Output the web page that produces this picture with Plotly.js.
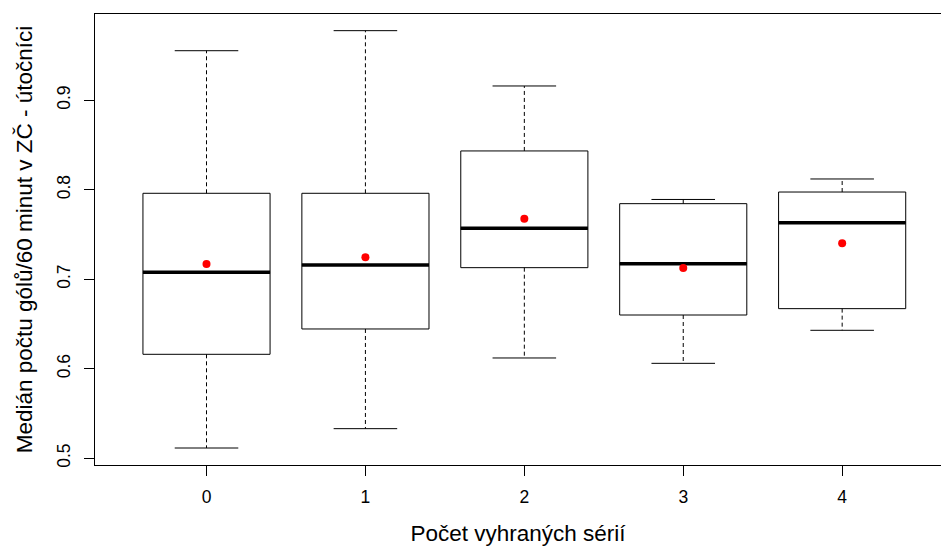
<!DOCTYPE html>
<html>
<head>
<meta charset="utf-8">
<script src="https://cdn.plot.ly/plotly-3.0.1.min.js"></script>
<style>html,body{margin:0;padding:0;background:#fff;}#chart{width:941px;height:546px;}</style>
</head>
<body>
<div id="chart"></div>
<script>
// Data
const categories = ['0', '1', '2', '3', '4'];
const whiskerLow  = [0.5115, 0.5331, 0.6121, 0.6061, 0.6430];
const q1          = [0.6162, 0.6445, 0.7130, 0.6601, 0.6672];
const medians     = [0.7078, 0.7160, 0.7570, 0.7174, 0.7633];
const q3          = [0.7961, 0.7961, 0.8434, 0.7845, 0.7975];
const whiskerHigh = [0.9554, 0.9778, 0.9160, 0.7892, 0.8121];
const means       = [0.7171, 0.7246, 0.7677, 0.7126, 0.7402];
const yTicks = [0.5, 0.6, 0.7, 0.8, 0.9];
const yTickLabels = ['0.5', '0.6', '0.7', '0.8', '0.9'];

const xs = categories.map((c, i) => i);
const BOX_HALF = 0.4, CAP_HALF = 0.2;
const FONT = 'Liberation Sans, Arial, Helvetica, sans-serif';

// Boxes
const boxTrace = {
  type: 'box', x: xs, q1: q1, median: medians, q3: q3,
  lowerfence: q1, upperfence: q3,
  width: BOX_HALF * 2, whiskerwidth: 0,
  fillcolor: '#ffffff', line: {color: '#000000', width: 1},
  boxpoints: false, hoverinfo: 'skip', showlegend: false
};

// Dashed whiskers
const wx = [], wy = [];
xs.forEach((x, i) => {
  wx.push(x, x, null, x, x, null);
  wy.push(q3[i], whiskerHigh[i], null, q1[i], whiskerLow[i], null);
});
const whiskerTrace = {
  type: 'scatter', mode: 'lines', x: wx, y: wy,
  line: {color: '#000000', width: 1, dash: '4px,3px'},
  hoverinfo: 'skip', showlegend: false
};

// Caps (staples)
const cx = [], cy = [];
xs.forEach((x, i) => {
  cx.push(x - CAP_HALF, x + CAP_HALF, null, x - CAP_HALF, x + CAP_HALF, null);
  cy.push(whiskerHigh[i], whiskerHigh[i], null, whiskerLow[i], whiskerLow[i], null);
});
const capTrace = {
  type: 'scatter', mode: 'lines', x: cx, y: cy,
  line: {color: '#000000', width: 1},
  hoverinfo: 'skip', showlegend: false
};

// Thick medians
const mx = [], my = [];
xs.forEach((x, i) => {
  mx.push(x - BOX_HALF, x + BOX_HALF, null);
  my.push(medians[i], medians[i], null);
});
const medianTrace = {
  type: 'scatter', mode: 'lines', x: mx, y: my,
  line: {color: '#000000', width: 3.5},
  hoverinfo: 'skip', showlegend: false
};

// Means
const meanTrace = {
  type: 'scatter', mode: 'markers', x: xs, y: means,
  marker: {color: '#ff0000', size: 8},
  hoverinfo: 'skip', showlegend: false
};

const layout = {
  width: 941, height: 546,
  margin: {l: 95, r: 0, t: 14, b: 81, pad: 0},
  paper_bgcolor: '#ffffff', plot_bgcolor: '#ffffff',
  font: {family: FONT, color: '#000000', size: 17},
  showlegend: false,
  xaxis: {
    range: [-0.7017, 4.622], autorange: false,
    tickmode: 'array', tickvals: xs, ticktext: categories,
    showline: true, mirror: true, linecolor: '#000000', linewidth: 1,
    ticks: 'outside', ticklen: 10, tickwidth: 1, tickcolor: '#000000',
    showgrid: false, zeroline: false,
    tickfont: {family: FONT, size: 17.5, color: '#000000'},
    ticklabelstandoff: 6,
    title: {text: 'Počet vyhraných sérií', font: {family: FONT, size: 22.5, color: '#000000'}, standoff: 25},
    automargin: false
  },
  yaxis: {
    range: [0.49251, 0.99642], autorange: false,
    tickmode: 'array', tickvals: yTicks, ticktext: yTickLabels,
    showline: true, mirror: false, linecolor: '#000000', linewidth: 1,
    ticks: 'outside', ticklen: 10, tickwidth: 1, tickcolor: '#000000',
    showgrid: false, zeroline: false, tickangle: -90,
    tickfont: {family: FONT, size: 17.5, color: '#000000'},
    ticklabelstandoff: 7,
    title: {text: 'Medián počtu gólů/60 minut v ZČ - útočníci', font: {family: FONT, size: 22.5, color: '#000000'}, standoff: 15},
    automargin: false
  }
};

Plotly.newPlot('chart', [boxTrace, whiskerTrace, capTrace, medianTrace, meanTrace], layout, {staticPlot: true, displayModeBar: false});
</script>
</body>
</html>
